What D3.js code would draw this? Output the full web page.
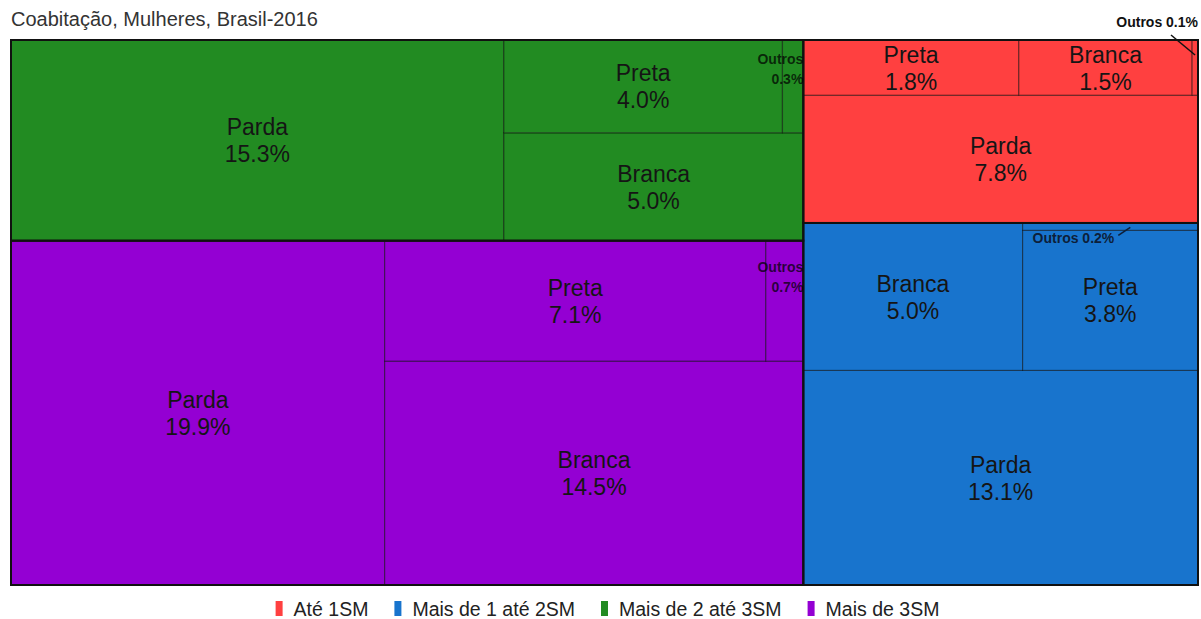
<!DOCTYPE html>
<html>
<head>
<meta charset="utf-8">
<script src="https://cdn.jsdelivr.net/npm/d3@7"></script>
<style>
  body { margin: 0; background: #fff; }
  text { font-family: Arial, "Liberation Sans", sans-serif; }
</style>
</head>
<body>
<div id="chart"></div>
<script>
// faixas de renda (grupos) e cores
var groups = ["Até 1SM", "Mais de 1 até 2SM", "Mais de 2 até 3SM", "Mais de 3SM"];
var groupColors = ["#ff4040", "#1874cd", "#228b22", "#9400d3"];
// cor/raça dentro de cada faixa (% estimado pela área)
var races = ["Parda", "Preta", "Branca", "Outros"];
var ate1SM = [7.8, 1.84, 1.48, 0.05];
var de1a2SM = [13.1, 3.8, 5.0, 0.2];
var de2a3SM = [15.3, 4.0, 5.0, 0.3];
var mais3SM = [19.9, 7.1, 14.5, 0.7];
var seriesValues = [ate1SM, de1a2SM, de2a3SM, mais3SM];

var W = 1201, H = 619;
var chart = {left: 11, right: 1198, top: 40, bottom: 585};

var svg = d3.select("#chart").append("svg")
  .attr("width", W)
  .attr("height", H);

svg.append("text")
  .attr("x", 11)
  .attr("y", 26)
  .attr("font-size", "20px")
  .attr("fill", "#333")
  .text("Coabitação, Mulheres, Brasil-2016");

var root = d3.hierarchy({
    name: "root",
    children: groups.map(function(g, i) {
      return {name: g, group: i, children: races.map(function(r, j) {
        return {name: r, group: i, value: seriesValues[i][j]};
      })};
    })
  })
  .sum(function(d) { return d.value || 0; })
  .sort(function(a, b) { return b.value - a.value; });

// layout on a unit square, then stretched and flipped (largest at bottom-left)
d3.treemap()
  .tile(d3.treemapSquarify.ratio(1))
  .size([1, 1])
  .round(false)(root);

var x = d3.scaleLinear().domain([0, 1]).range([chart.left, chart.right]);
var y = d3.scaleLinear().domain([0, 1]).range([chart.bottom, chart.top]);

function box(d) {
  return {x0: x(d.x0), x1: x(d.x1), y0: y(d.y1), y1: y(d.y0)};
}

var leaves = root.leaves();

var cells = svg.append("g").selectAll("g")
  .data(leaves)
  .enter().append("g");

cells.append("rect")
  .attr("x", function(d) { return box(d).x0; })
  .attr("y", function(d) { return box(d).y0; })
  .attr("width", function(d) { var b = box(d); return b.x1 - b.x0; })
  .attr("height", function(d) { var b = box(d); return b.y1 - b.y0; })
  .attr("fill", function(d) { return groupColors[d.data.group]; })
  .attr("stroke", "rgba(0,0,0,0.45)")
  .attr("stroke-width", 1.2);

// group borders
svg.append("g").selectAll("rect")
  .data(root.children)
  .enter().append("rect")
  .attr("x", function(d) { return box(d).x0; })
  .attr("y", function(d) { return box(d).y0; })
  .attr("width", function(d) { var b = box(d); return b.x1 - b.x0; })
  .attr("height", function(d) { var b = box(d); return b.y1 - b.y0; })
  .attr("fill", "none")
  .attr("stroke", "#111")
  .attr("stroke-width", 2);

var labels = svg.append("g");

var pct = function(v) { return d3.format(".1f")(v) + "%"; };

leaves.forEach(function(d) {
  var b = box(d), w = b.x1 - b.x0, h = b.y1 - b.y0;
  var cx = (b.x0 + b.x1) / 2, cy = (b.y0 + b.y1) / 2;
  if (d.value >= 1) {
    var t = labels.append("text")
      .attr("text-anchor", "middle")
      .attr("font-size", "23px")
      .attr("fill", "#151515");
    t.append("tspan").attr("x", cx).attr("y", cy - 5).text(d.data.name);
    t.append("tspan").attr("x", cx).attr("y", cy + 22).text(pct(d.value));
    return;
  }
  var small = {"font-family": "Lato, 'DejaVu Sans', sans-serif", "font-weight": "bold", "font-size": "14px"};
  if (w < 8) {
    // tiny column: label above the chart with a leader line
    var t1 = labels.append("text").attr("text-anchor", "end")
      .attr("x", chart.right).attr("y", chart.top - 13)
      .attr("fill", "#111")
      .text(d.data.name + " " + pct(d.value));
    for (var k in small) t1.attr(k, small[k]);
    labels.append("line")
      .attr("x1", chart.right - 27).attr("y1", chart.top - 5)
      .attr("x2", cx).attr("y2", b.y0 + 15)
      .attr("stroke", "#111").attr("stroke-width", 1.5);
  } else if (h < 15) {
    // thin row: label below the cell with a leader line
    var t2 = labels.append("text")
      .attr("x", b.x0 + 10).attr("y", b.y1 + 13)
      .attr("fill", "#0d1f3a")
      .text(d.data.name + " " + pct(d.value));
    for (var k2 in small) t2.attr(k2, small[k2]);
    var tx = b.x0 + 10 + t2.node().getComputedTextLength();
    labels.append("line")
      .attr("x1", tx + 4).attr("y1", b.y1 + 5)
      .attr("x2", tx + 16).attr("y2", b.y1 - 3)
      .attr("stroke", "#0d1f3a").attr("stroke-width", 1.5);
  } else {
    var t3 = labels.append("text")
      .attr("text-anchor", "end")
      .attr("fill", "rgba(0,0,0,0.72)");
    for (var k3 in small) t3.attr(k3, small[k3]);
    var ty = b.y0 + 0.26 * h;
    t3.append("tspan").attr("x", b.x1).attr("y", ty).text(d.data.name);
    t3.append("tspan").attr("x", b.x1).attr("y", ty + 20).text(pct(d.value));
  }
});

// legend
var legend = svg.append("g");
var lx = 0;
groups.forEach(function(g, i) {
  var it = legend.append("g");
  it.append("rect")
    .attr("x", lx).attr("y", 601)
    .attr("width", 7).attr("height", 15)
    .attr("fill", groupColors[i]);
  var tt = it.append("text")
    .attr("x", lx + 18).attr("y", 616)
    .attr("font-size", "19.5px")
    .attr("fill", "#222")
    .text(g);
  lx += 18 + tt.node().getComputedTextLength() + 26;
});
var legendWidth = lx - 26;
legend.attr("transform", "translate(" + (607.5 - legendWidth / 2) + ",0)");
</script>
</body>
</html>
